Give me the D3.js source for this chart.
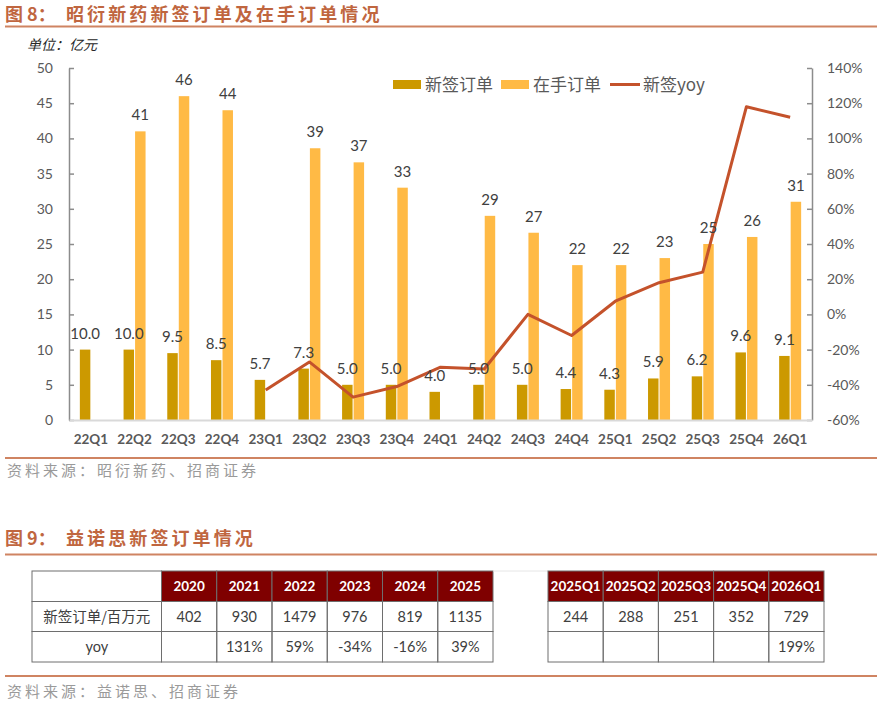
<!DOCTYPE html>
<html><head><meta charset="utf-8">
<script src="https://cdn.jsdelivr.net/npm/d3@7/dist/d3.min.js"></script>
<style>
html,body{margin:0;padding:0;background:#fff;}
svg{display:block;}
</style></head>
<body>
<svg id="c" width="879" height="709"></svg>
<script>
// ---------- data ----------
const quarters = ["22Q1","22Q2","22Q3","22Q4","23Q1","23Q2","23Q3","23Q4","24Q1","24Q2","24Q3","24Q4","25Q1","25Q2","25Q3","25Q4","26Q1"];
const newSigned = [10.0,10.0,9.5,8.5,5.7,7.3,5.0,5.0,4.0,5.0,5.0,4.4,4.3,5.9,6.2,9.6,9.1];
const backlog   = [null,41,46,44,null,38.6,36.6,33,null,29,26.6,22,22,23,25,26,31];
const yoyPct    = [null,null,null,null,-43,-27,-47,-41,-30,-31,0,-12,7.5,18,24,118,112];
const leftTicks = [0,5,10,15,20,25,30,35,40,45,50];
const rightTicks = [-60,-40,-20,0,20,40,60,80,100,120,140];
const legendLabels = ["新签订单","在手订单","新签yoy"];

const tblYears = ["2020","2021","2022","2023","2024","2025"];
const tblYearOrders = ["402","930","1479","976","819","1135"];
const tblYearYoy = ["","131%","59%","-34%","-16%","39%"];
const tblQuarters = ["2025Q1","2025Q2","2025Q3","2025Q4","2026Q1"];
const tblQOrders = ["244","288","251","352","729"];
const tblQYoy = ["","","","","199%"];
const rowLabels = ["新签订单/百万元","yoy"];

// ---------- styles ----------
const cNew = "#CC9900", cHand = "#FFBA45", cLine = "#C4522B";
const cTitle = "#C0663F", cRule = "#CF8462";
const numFont = "Lato, 'Open Sans', sans-serif";
const cjkFont = "'Noto Sans CJK SC', 'Noto Sans', sans-serif";

const svg = d3.select("#c");

// titles & rules
function title(y, lead, rest){
  const t = svg.append("text").attr("y", y).attr("fill", cTitle)
    .attr("font-family", cjkFont).attr("font-weight", "bold").attr("font-size", 18);
  t.append("tspan").attr("x", 5).text(lead);
  t.append("tspan").attr("x", 66).attr("letter-spacing", 3.1).text(rest);
}
title(21, "图 8：", "昭衍新药新签订单及在手订单情况");
svg.append("line").attr("x1",5).attr("x2",877).attr("y1",26.5).attr("y2",26.5).attr("stroke",cRule).attr("stroke-width",2);

svg.append("text").attr("x",27).attr("y",50).attr("font-family",cjkFont).attr("font-size",14)
  .attr("font-style","italic").attr("fill","#262626").text("单位：亿元");

// ---------- chart ----------
const x0 = 69, x1 = 812, yTop = 68, yBot = 420;
const x = d3.scaleBand().domain(quarters).range([x0, x1]).padding(0);
const bw = x.bandwidth();
const xs = d3.scaleBand().domain(["new","hand"]).range([bw/2 - 11, bw/2 + 11]).paddingInner(0.09);
const yL = d3.scaleLinear().domain([0,50]).range([yBot, yTop]);
const yR = d3.scaleLinear().domain([-60,140]).range([yBot, yTop]);

const g = svg.append("g");

// bars
g.selectAll("rect.new").data(quarters).join("rect").attr("class","new")
  .attr("x", d => x(d) + xs("new")).attr("width", xs.bandwidth())
  .attr("y", (d,i) => yL(newSigned[i])).attr("height", (d,i) => yL(0) - yL(newSigned[i]))
  .attr("fill", cNew);
const handIdx = quarters.map((d,i)=>i).filter(i => backlog[i] != null);
g.selectAll("rect.hand").data(handIdx).join("rect").attr("class","hand")
  .attr("x", i => x(quarters[i]) + xs("hand")).attr("width", xs.bandwidth())
  .attr("y", i => yL(backlog[i])).attr("height", i => yL(0) - yL(backlog[i]))
  .attr("fill", cHand);

// axes
const axL = d3.axisLeft(yL).tickValues(leftTicks).tickSizeInner(-5).tickSizeOuter(0).tickPadding(16);
const axR = d3.axisRight(yR).tickValues(rightTicks).tickSizeInner(-5).tickSizeOuter(0).tickPadding(15)
  .tickFormat(d => d + "%");
const gl = g.append("g").attr("transform", `translate(${x0},0)`).call(axL);
const gr = g.append("g").attr("transform", `translate(${x1},0)`).call(axR);
[gl, gr].forEach(a => {
  a.select(".domain").attr("stroke","#8C8C8C").attr("stroke-width",1.5);
  a.selectAll(".tick line").attr("stroke","#8C8C8C").attr("stroke-width",1.5);
  a.selectAll(".tick text").attr("font-family",numFont).attr("font-size",14).attr("fill","#595959");
});
// x axis
const axB = d3.axisBottom(x).tickSize(0).tickPadding(14);
const gb = g.append("g").attr("transform", `translate(0,${yBot})`).call(axB);
gb.select(".domain").attr("stroke","#D9D9D9").attr("stroke-width",2);
gb.selectAll(".tick text").attr("font-family",numFont).attr("font-weight","bold").attr("font-size",13.5).attr("fill","#595959");

// yoy line
const pts = quarters.map((d,i)=>[d, yoyPct[i]]).filter(p => p[1] != null);
g.append("path").datum(pts)
  .attr("d", d3.line().x(p => x(p[0]) + bw/2).y(p => yR(p[1])))
  .attr("fill","none").attr("stroke",cLine).attr("stroke-width",3).attr("stroke-linejoin","round");

// labels
g.selectAll("text.ln").data(quarters).join("text").attr("class","ln")
  .attr("x", d => x(d) + xs("new") + xs.bandwidth()/2)
  .attr("y", (d,i) => yL(newSigned[i]) - 11)
  .attr("text-anchor","middle").attr("font-family",numFont).attr("font-size",15).attr("fill","#404040")
  .text((d,i) => d3.format(".1f")(newSigned[i]));
g.selectAll("text.lh").data(handIdx).join("text").attr("class","lh")
  .attr("x", i => x(quarters[i]) + xs("hand") + xs.bandwidth()/2)
  .attr("y", i => yL(backlog[i]) - 11)
  .attr("text-anchor","middle").attr("font-family",numFont).attr("font-size",15).attr("fill","#404040")
  .text(i => d3.format(".0f")(backlog[i]));

// legend
const lg = svg.append("g").attr("font-family",cjkFont).attr("font-size",17).attr("fill","#595959");
const legX = [393, 501, 610];
lg.append("rect").attr("x",legX[0]).attr("y",80).attr("width",28).attr("height",9).attr("fill",cNew);
lg.append("text").attr("x",legX[0]+32).attr("y",90.5).text(legendLabels[0]);
lg.append("rect").attr("x",legX[1]).attr("y",80).attr("width",28).attr("height",9).attr("fill",cHand);
lg.append("text").attr("x",legX[1]+32).attr("y",90.5).text(legendLabels[1]);
lg.append("line").attr("x1",legX[2]).attr("x2",legX[2]+30).attr("y1",84.5).attr("y2",84.5).attr("stroke",cLine).attr("stroke-width",3);
lg.append("text").attr("x",legX[2]+33).attr("y",90.5).text(legendLabels[2]);

// bottom rule + source
svg.append("line").attr("x1",5).attr("x2",877).attr("y1",458).attr("y2",458).attr("stroke",cRule).attr("stroke-width",2);
svg.append("text").attr("x",7).attr("y",476).attr("font-family",cjkFont).attr("font-size",15)
  .attr("letter-spacing",3).attr("fill","#9A9A9A").text("资料来源：昭衍新药、招商证券");

// ---------- section 2 ----------
title(545, "图 9：", "益诺思新签订单情况");
svg.append("line").attr("x1",5).attr("x2",877).attr("y1",554.5).attr("y2",554.5).attr("stroke",cRule).attr("stroke-width",2);

const tTop = 571, rowH = [30.5, 30, 30.5];
const rowY = [tTop, tTop + rowH[0], tTop + rowH[0] + rowH[1], tTop + rowH[0] + rowH[1] + rowH[2]];
const hdrFill = "#7F0000", border = "#6E6E6E";

function table(xStart, labelW, colW, headers, r1, r2, withLabel){
  const tg = svg.append("g");
  const cols = [];
  let cx = xStart;
  if (withLabel){ cols.push({x: cx, w: labelW, head: "", a: rowLabels[0], b: rowLabels[1], label: true}); cx += labelW; }
  headers.forEach((h,i) => { cols.push({x: cx, w: colW, head: h, a: r1[i], b: r2[i]}); cx += colW; });
  cols.forEach(c => {
    if (!c.label) tg.append("rect").attr("x",c.x).attr("y",rowY[0]).attr("width",c.w).attr("height",rowH[0]).attr("fill",hdrFill);
    [0,1,2].forEach(r => {
      tg.append("rect").attr("x",c.x).attr("y",rowY[r]).attr("width",c.w).attr("height",rowH[r])
        .attr("fill","none").attr("stroke",border).attr("stroke-width",1);
    });
    tg.append("text").attr("x",c.x+c.w/2).attr("y",rowY[0]+rowH[0]/2+4.5).attr("text-anchor","middle")
      .attr("font-family",numFont).attr("font-weight","bold").attr("font-size",13.5).attr("fill","#fff").text(c.head);
    tg.append("text").attr("x",c.x+c.w/2).attr("y",rowY[1]+rowH[1]/2+5).attr("text-anchor","middle")
      .attr("font-family", c.label ? cjkFont : numFont).attr("font-size",14.5).attr("fill","#404040").text(c.a);
    tg.append("text").attr("x",c.x+c.w/2).attr("y",rowY[2]+rowH[2]/2+5).attr("text-anchor","middle")
      .attr("font-family", numFont).attr("font-size",14.5).attr("fill","#404040").text(c.b);
  });
}
table(32, 129.5, 55.25, tblYears, tblYearOrders, tblYearYoy, true);
svg.append("line").attr("x1",493).attr("x2",548).attr("y1",rowY[0]).attr("y2",rowY[0]).attr("stroke","#E6E6E6");
table(548, 0, 55.2, tblQuarters, tblQOrders, tblQYoy, false);

svg.append("line").attr("x1",5).attr("x2",877).attr("y1",676).attr("y2",676).attr("stroke",cRule).attr("stroke-width",2);
svg.append("text").attr("x",7).attr("y",697).attr("font-family",cjkFont).attr("font-size",15)
  .attr("letter-spacing",3).attr("fill","#9A9A9A").text("资料来源：益诺思、招商证券");
</script>
</body></html>
